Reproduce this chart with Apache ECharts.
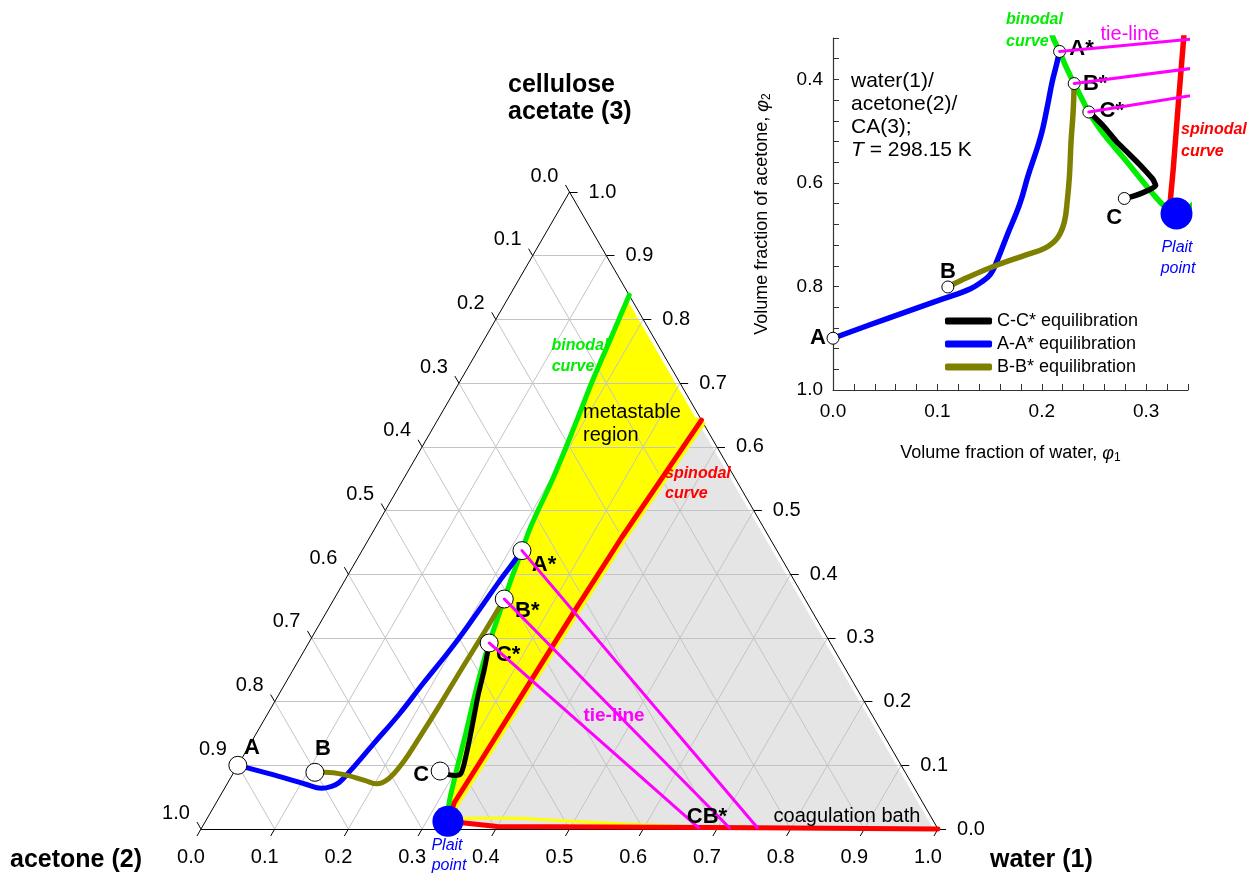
<!DOCTYPE html>
<html><head><meta charset="utf-8">
<script src="https://cdn.jsdelivr.net/npm/echarts@6/dist/echarts.min.js"></script>
<style>html,body{margin:0;padding:0;background:#fff}#c{width:1254px;height:878px}</style>
</head><body><div id="c"></div>
<script>
// ---- DATA: points as [phi1 (water), phi2 (acetone)]; CA = 1 - phi1 - phi2 ----
const pathA = [[0,0.9],[0.0505,0.863],[0.1058,0.8236],[0.1318,0.8043],[0.1439,0.789],[0.151,0.776],[0.157,0.751],[0.167,0.700],[0.1788,0.641],[0.187,0.585],[0.196,0.530],[0.201,0.494],[0.206,0.445],[0.210,0.404],[0.214,0.372],[0.217,0.346]];
const pathB = [[0.110,0.801],[0.123,0.788],[0.153,0.762],[0.185,0.739],[0.203,0.726],[0.215,0.706],[0.2215,0.676],[0.2245,0.632],[0.2265,0.585],[0.228,0.520],[0.230,0.462],[0.231,0.408]];
const pathC = [[0.279,0.630],[0.290,0.624],[0.302,0.614],[0.309,0.605],[0.306,0.592],[0.293,0.563],[0.282,0.541],[0.271,0.519],[0.259,0.490],[0.250,0.472],[0.245,0.463]];
const binodalUpper = [[0.162,0.0],[0.171,0.06],[0.179,0.115],[0.189,0.168],[0.202,0.245],[0.210,0.315],[0.217,0.346],[0.223,0.375],[0.231,0.408],[0.238,0.436],[0.245,0.463],[0.255,0.494],[0.267,0.525],[0.281,0.558],[0.293,0.588],[0.306,0.620],[0.318,0.646],[0.329,0.659]];
const binodalLower = [[0.329,0.659],[0.3525,0.6305],[0.424,0.559],[0.5087,0.480],[0.5925,0.401],[0.676,0.321],[0.85,0.149],[1.0,0.0]];
const spinodalUpper = [[0.358,0.0],[0.350,0.10],[0.342,0.20],[0.336,0.317],[0.331,0.44],[0.326,0.57],[0.323,0.635],[0.329,0.659]];
const spinodalLower = [[0.329,0.659],[0.40,0.596],[0.55,0.447],[0.75,0.248],[1.0,0.0]];
const plaitPoint = [0.329,0.659];
const pointNames = ['A','B','C','A*','B*','C*'];
const pointValues = [[0,0.9],[0.110,0.801],[0.279,0.630],[0.217,0.346],[0.231,0.408],[0.245,0.463]];
const tieStarts = [[0.217,0.346],[0.231,0.408],[0.245,0.463]];
const tieEnds = [[0.754,0.244],[0.716,0.282],[0.674,0.324]];
const ternaryTicks = [0,0.1,0.2,0.3,0.4,0.5,0.6,0.7,0.8,0.9,1.0];
const insetXTicks = [0,0.02,0.04,0.06,0.08,0.1,0.12,0.14,0.16,0.18,0.2,0.22,0.24,0.26,0.28,0.3,0.32,0.34];
const insetXLabels = [0,0.1,0.2,0.3];
const insetYTicks = [0.32,0.36,0.4,0.44,0.48,0.52,0.56,0.6,0.64,0.68,0.72,0.76,0.8,0.84,0.88,0.92,0.96,1.0];
const insetYLabels = [0.4,0.6,0.8,1.0];
const legendNames = ['C-C* equilibration','A-A* equilibration','B-B* equilibration'];

// ---- helpers ----
const FONT = 'Liberation Sans, Arial, Helvetica, sans-serif';
const T = p => [(1 + p[0] - p[1]) / 2, 1 - p[0] - p[1]];
const TK = 0.011;
const chart = echarts.init(document.getElementById('c'), null, {renderer:'canvas'});

function polySeries(points, color, z){
  return {type:'custom', xAxisIndex:0, yAxisIndex:0, z, silent:true, clip:false, data:[[0,0]],
    renderItem:(params, api)=>({type:'polygon', shape:{points: points.map(p=>api.coord(T(p)))}, style:{fill:color}})};
}
function segSeries(segs, color, width, z){
  return {type:'lines', coordinateSystem:'cartesian2d', xAxisIndex:0, yAxisIndex:0, z, silent:true, polyline:false, clip:false,
    lineStyle:{color, width, opacity:1, curveness:0}, data: segs.map(s=>({coords: s.map(T)}))};
}
function lineSeries(pts, color, width, z, grid, extra){
  return Object.assign({type:'line', xAxisIndex:grid, yAxisIndex:grid, data: grid===0 ? pts.map(T) : pts.slice(),
    symbol:'none', showSymbol:false, smooth:0.4, z, silent:true, clip: grid===1,
    lineStyle:{color, width, cap:'round', join:'round'}, itemStyle:{color}}, extra||{});
}

// grid lines & ticks
const inner = ternaryTicks.filter(v=>v>0 && v<1);
const gridSegs = [];
inner.forEach(v=>{
  gridSegs.push([[v,1-v],[v,0]]);
  gridSegs.push([[0,v],[1-v,v]]);
  gridSegs.push([[0,1-v],[1-v,0]]);
});
const edgeSegs = [[[0,1],[1,0]],[[1,0],[0,0]],[[0,0],[0,1]]];
ternaryTicks.forEach(v=>{
  edgeSegs.push([[v,1-v],[v,1-v+TK]]);
  edgeSegs.push([[0,v],[-TK,v]]);
  edgeSegs.push([[1-v,0],[1-v+TK,-TK]]);
});

function tickLabelSeries(pos, offset){
  return {type:'scatter', xAxisIndex:0, yAxisIndex:0, z:6, silent:true, symbolSize:0, itemStyle:{opacity:1},
    data: ternaryTicks.map(v=>({value:T(pos(v)), name:v.toFixed(1)})),
    label:{show:true, position:'inside', formatter:'{b}', offset, color:'#000', opacity:1, fontSize:20, fontFamily:FONT}};
}

const ternOff = {A:[14,-17], B:[8,-23], C:[-19,4], 'A*':[22,14], 'B*':[23,12], 'C*':[19,12]};
const insetOff = {A:[-15,0], B:[0,-15], C:[-10,19], 'A*':[22,-3], 'B*':[21,0], 'C*':[23,-1]};
function circleSeries(grid, size, offs){
  return {type:'scatter', xAxisIndex:grid, yAxisIndex:grid, z:20, silent:true, symbolSize:size, clip:false,
    itemStyle:{color:'#fff', borderColor:'#000', borderWidth:1, opacity:1},
    data: pointNames.map((n,i)=>({name:n, value: grid===0 ? T(pointValues[i]) : pointValues[i], label:{offset:offs[n]}})),
    label:{show:true, position:'inside', formatter:'{b}', color:'#000', opacity:1, fontSize:22, fontWeight:'bold', fontFamily:FONT}};
}

const series = [];
// ternary fills
series.push(polySeries(binodalUpper.concat(binodalLower), '#ffff00', 1));
series.push(polySeries(spinodalUpper.concat(spinodalLower), '#e5e5e5', 2));
series.push(segSeries([[[1,0],[0,0]]], '#ffffff', 8, 3));
series.push(segSeries(gridSegs, '#c4c4c4', 1, 4));
series.push(segSeries(edgeSegs, '#000000', 1, 5));
series.push(tickLabelSeries(v=>[v,1-v], [-10,28]));
series.push(tickLabelSeries(v=>[0,v], [-25,-16]));
series.push(tickLabelSeries(v=>[1-v,0], [33,0]));
// ternary curves
series.push(lineSeries(spinodalUpper, '#ffff00', 11, 7, 0, {smooth:false, lineStyle:{color:'#ffff00', width:11, cap:'butt'}}));
series.push(lineSeries(binodalLower, '#ffff00', 3, 7, 0, {smooth:false}));
series.push(lineSeries(binodalUpper, '#00ee00', 5, 8, 0));
series.push(lineSeries(spinodalUpper.concat(spinodalLower.slice(1)), '#ff0000', 5, 9, 0, {smooth:false}));
series.push(lineSeries(pathA, '#0000ff', 5, 10, 0, {name:legendNames[1]}));
series.push(lineSeries(pathB, '#808000', 5, 10, 0, {name:legendNames[2]}));
series.push(lineSeries(pathC, '#000000', 5, 10, 0, {name:legendNames[0], smooth:0.2}));
series.push(circleSeries(0, 18, ternOff));
tieStarts.forEach((s,i)=>series.push(lineSeries([s, tieEnds[i]], '#ff00ff', 3, 21, 0, {smooth:false})));
series.push({type:'scatter', xAxisIndex:0, yAxisIndex:0, z:30, silent:true, symbolSize:31, itemStyle:{color:'#0000ff', opacity:1}, data:[T(plaitPoint)]});

// inset curves
series.push(lineSeries(binodalUpper.concat(binodalLower.slice(1)), '#00ee00', 5.5, 8, 1));
series.push(lineSeries(spinodalUpper, '#ff0000', 5.5, 9, 1, {smooth:false}));
series.push(lineSeries(pathA, '#0000ff', 5.5, 10, 1, {name:legendNames[1]}));
series.push(lineSeries(pathB, '#808000', 5.5, 10, 1, {name:legendNames[2]}));
series.push(lineSeries(pathC, '#000000', 5.5, 10, 1, {name:legendNames[0], smooth:0.2}));
series.push(circleSeries(1, 12, insetOff));
tieStarts.forEach((s,i)=>series.push(lineSeries([s, tieEnds[i]], '#ff00ff', 3, 21, 1, {smooth:false})));
series.push({type:'scatter', xAxisIndex:1, yAxisIndex:1, z:30, silent:true, symbolSize:32, itemStyle:{color:'#0000ff', opacity:1}, data:[plaitPoint.slice()]});

function txt(t, x, y, font, fill, align){
  return {type:'text', x, y, silent:true, z:50, style:{text:t, font: font + ' ' + FONT, fill: fill||'#000', textAlign: align||'left', textVerticalAlign:'middle'}};
}
const graphics = [
  txt('cellulose', 508, 85, 'bold 25px'),
  txt('acetate (3)', 508, 112, 'bold 25px'),
  txt('acetone (2)', 10, 860, 'bold 25px'),
  txt('water (1)', 990, 860, 'bold 25px'),
  txt('binodal', 580, 346, 'italic bold 16px', '#00ee00', 'center'),
  txt('curve', 573, 367, 'italic bold 16px', '#00ee00', 'center'),
  txt('metastable', 583, 412, '20px'),
  txt('region', 583, 435, '20px'),
  txt('spinodal', 665, 474, 'italic bold 16px', '#ff0000'),
  txt('curve', 665, 494, 'italic bold 16px', '#ff0000'),
  txt('tie-line', 614, 716, 'bold 19px', '#ff00ff', 'center'),
  txt('CB*', 707, 817, 'bold 22px', '#000', 'center'),
  txt('coagulation bath', 847, 816, '20px', '#000', 'center'),
  txt('Plait', 447, 846, 'italic 16px', '#0000ff', 'center'),
  txt('point', 449, 866, 'italic 16px', '#0000ff', 'center'),
  txt('binodal', 1006, 20, 'italic bold 16px', '#00ee00'),
  txt('curve', 1006, 42, 'italic bold 16px', '#00ee00'),
  txt('tie-line', 1130, 34, '20px', '#ff00ff', 'center'),
  txt('spinodal', 1181, 130, 'italic bold 16px', '#ff0000'),
  txt('curve', 1181, 152, 'italic bold 16px', '#ff0000'),
  txt('Plait', 1177, 248, 'italic 16px', '#0000ff', 'center'),
  txt('point', 1178, 269, 'italic 16px', '#0000ff', 'center'),
  txt('water(1)/', 851, 81, '21px'),
  txt('acetone(2)/', 851, 104, '21px'),
  txt('CA(3);', 851, 127, '21px'),
  {type:'text', x:851, y:150, silent:true, z:50, style:{text:'{i|T} = 298.15 K', fontSize:21, fontFamily:FONT, fill:'#000', textVerticalAlign:'middle',
    rich:{i:{fontStyle:'italic', fontSize:21, fontFamily:FONT, fill:'#000'}}}}
];

const axisNameStyle = {fontSize:18, color:'#000', fontFamily:FONT,
  rich:{i:{fontStyle:'italic', fontSize:18, fontFamily:FONT, color:'#000'}, s:{fontSize:12, fontFamily:FONT, color:'#000', padding:[9,0,0,0]}}};

chart.setOption({
  animation:false,
  backgroundColor:'#ffffff',
  grid:[
    {left:164.15, top:160.15, width:810.7, height:700.7},
    {left:833, top:38, width:355, height:352}
  ],
  xAxis:[
    {type:'value', gridIndex:0, min:-0.05, max:1.05, show:false},
    {type:'value', gridIndex:1, min:0, max:0.34,
      axisLine:{show:true, onZero:false, lineStyle:{color:'#333', width:1.2}},
      axisTick:{show:true, inside:true, length:6, customValues:insetXTicks, lineStyle:{color:'#333'}},
      axisLabel:{customValues:insetXLabels, formatter:v=>v.toFixed(1), fontSize:19, color:'#000', fontFamily:FONT, margin:12},
      splitLine:{show:false},
      name:'Volume fraction of water, {i|φ}{s|1}', nameLocation:'middle', nameGap:53, nameTextStyle:axisNameStyle}
  ],
  yAxis:[
    {type:'value', gridIndex:0, min:-0.05, max:1.05, show:false},
    {type:'value', gridIndex:1, min:0.32, max:1.0, inverse:true,
      axisLine:{show:true, onZero:false, lineStyle:{color:'#333', width:1.2}},
      axisTick:{show:true, inside:true, length:6, customValues:insetYTicks, lineStyle:{color:'#333'}},
      axisLabel:{customValues:insetYLabels, formatter:v=>v.toFixed(1), fontSize:19, color:'#000', fontFamily:FONT, margin:10},
      splitLine:{show:false},
      name:'Volume fraction of acetone, {i|φ}{s|2}', nameLocation:'middle', nameGap:60, nameTextStyle:axisNameStyle}
  ],
  legend:{data:legendNames, orient:'vertical', left:940, top:307, icon:'roundRect', itemWidth:47, itemHeight:7, itemGap:5,
    selectedMode:false, textStyle:{fontSize:18, color:'#000', fontFamily:FONT}},
  graphic:graphics,
  series
});
</script></body></html>
